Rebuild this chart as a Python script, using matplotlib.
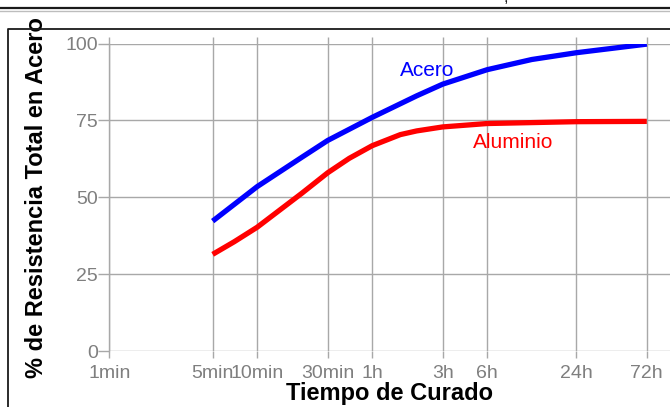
import numpy as np
import matplotlib
matplotlib.use('Agg')
import matplotlib.pyplot as plt
from matplotlib.lines import Line2D

plt.rcParams['font.family'] = ['Liberation Sans', 'DejaVu Sans']

# tiempos de curado en minutos
tick_pos = [1, 5, 10, 30, 60, 180, 360, 1440, 4320]
tick_lbl = ['1min', '5min', '10min', '30min', '1h', '3h', '6h', '24h', '72h']
y_ticks = [0, 25, 50, 75, 100]

t_acero = [5, 10, 20, 30, 60, 120, 180, 360, 720, 1440, 4320]
acero = [42.3, 53.5, 63.0, 68.5, 76.0, 83.0, 86.8, 91.5, 94.8, 97.0, 99.8]
t_alum = [5, 7, 10, 20, 30, 42, 60, 93, 120, 180, 360, 1440, 4320]
aluminio = [31.5, 35.6, 40.3, 51.3, 58.0, 62.7, 66.8, 70.4, 71.6, 72.9, 74.0, 74.6, 74.7]

W, H = 670, 407
fig = plt.figure(figsize=(W / 100, H / 100), dpi=100)
ax = fig.add_axes([109.3 / W, 1 - 351.3 / H, 1 - 109.3 / W, (351.3 - 43.5) / H])

grid_c = '#a8a8a8'
lbl_c = '#7f7f7f'

ax.plot(t_acero, acero, color='#0000ff', lw=3.8, solid_capstyle='butt',
        solid_joinstyle='round', zorder=3)
ax.plot(t_alum, aluminio, color='#ff0000', lw=3.8, solid_capstyle='butt',
        solid_joinstyle='round', zorder=3)

ax.set_xscale('log')
ax.set_xlim(1, 6200)
ax.set_ylim(0, 100)
ax.set_xticks(tick_pos)
ax.set_xticklabels(tick_lbl)
ax.xaxis.set_minor_locator(matplotlib.ticker.NullLocator())
ax.set_yticks(y_ticks)
ax.grid(True, color=grid_c, lw=1.0)
for s in ['top', 'right', 'bottom']:
    ax.spines[s].set_visible(False)
ax.spines['left'].set_color(grid_c)
ax.spines['left'].set_linewidth(1.0)
ax.tick_params(axis='x', which='both', direction='out', length=5, width=1.0,
               color=grid_c, labelcolor=lbl_c, labelsize=14, pad=5, top=True)
ax.tick_params(axis='y', direction='out', length=8, width=1.0,
               color=grid_c, labelcolor=lbl_c, labelsize=14, pad=0)

ax.text(92.7, 89.4, 'Acero', color='#0000ff', fontsize=15, va='baseline', ha='left')
ax.text(287.6, 66.2, 'Aluminio', color='#ff0000', fontsize=15, va='baseline', ha='left')

ax.set_xlabel('Tiempo de Curado', fontsize=17, fontweight='bold')
ax.set_ylabel('% de Resistencia Total en Acero', fontsize=17, fontweight='bold')
ax.xaxis.set_label_coords(0.5, -0.1)
ax.yaxis.set_label_coords(-0.109, 0.5)

# marco exterior
fig.add_artist(Line2D([0, 1], [1 - 8 / H, 1 - 8 / H], color='#1a1a1a', lw=1.6))
fig.add_artist(Line2D([0, 1], [1 - 10.5 / H, 1 - 10.5 / H], color='#bdbdbd', lw=1.0))
fig.add_artist(Line2D([7.5 / W, 7.5 / W, 1], [0, 1 - 28.7 / H, 1 - 28.7 / H],
                      color='#1a1a1a', lw=1.3))
fig.text(506 / W, 1 + 3 / H, ',', fontsize=12, color='#1a1a1a', ha='center', va='center')

fig.savefig('out.png', dpi=100)
